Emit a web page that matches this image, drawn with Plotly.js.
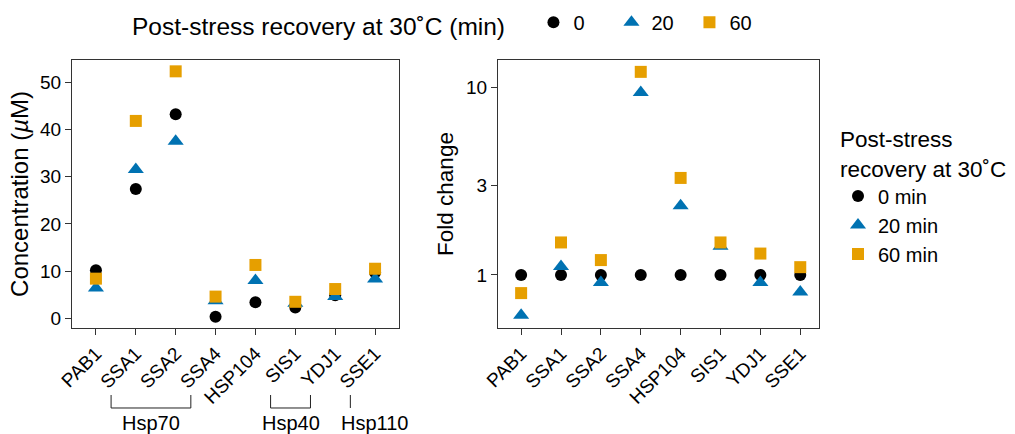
<!DOCTYPE html>
<html><head><meta charset="utf-8">
<script src="https://cdn.plot.ly/plotly-3.0.1.min.js"></script>
<style>html,body{margin:0;padding:0;background:#fff}#chart{width:1015px;height:434px}</style>
</head><body><div id="chart"></div>
<script>
// ---- data ----
const genes = ['PAB1','SSA1','SSA2','SSA4','HSP104','SIS1','YDJ1','SSE1'];
const recoveryMinutes = ['0','20','60'];
const conc0  = [10.2, 27.4, 43.2, 0.35, 3.4, 2.3, 4.9, 9.7];
const conc20 = [6.4, 31.5, 37.5, 3.7, 8.0, 3.2, 4.6, 8.3];
const conc60 = [8.4, 41.8, 52.3, 4.6, 11.3, 3.5, 6.2, 10.5];
const fold0  = [1, 1, 1, 1, 1, 1, 1, 1];
const fold20 = [0.61, 1.11, 0.91, 9.4, 2.34, 1.42, 0.91, 0.81];
const fold60 = [0.80, 1.49, 1.20, 12.1, 3.29, 1.49, 1.30, 1.10];
const concTicks = [0, 10, 20, 30, 40, 50];
const foldTicks = [1, 3, 10];
const groupNames = ['Hsp70', 'Hsp40', 'Hsp110'];
const groupFirst = ['SSA1', 'SIS1', 'SSE1'];
const groupLast  = ['SSA4', 'YDJ1', 'SSE1'];

// ---- styles ----
const FONT = 'Liberation Sans, Arial, Helvetica, sans-serif';
const colors = ['#000000', '#0072B2', '#E69F00'];
const symbols = ['circle', 'triangle-up', 'square'];
const sizes = [12, 14, 12];
const concSeries = [conc0, conc20, conc60];
const foldSeries = [fold0, fold20, fold60];

const traces = [];
concSeries.forEach((ys, i) => traces.push({
  type: 'scatter', mode: 'markers', x: genes, y: ys, xaxis: 'x', yaxis: 'y',
  name: recoveryMinutes[i], legend: 'legend',
  marker: {color: colors[i], symbol: symbols[i], size: sizes[i], line: {width: 0}}
}));
foldSeries.forEach((ys, i) => traces.push({
  type: 'scatter', mode: 'markers', x: genes, y: ys, xaxis: 'x2', yaxis: 'y2',
  name: recoveryMinutes[i] + ' min', legend: 'legend2',
  marker: {color: colors[i], symbol: symbols[i], size: sizes[i], line: {width: 0}}
}));

const axisBase = {
  showline: true, mirror: true, linecolor: '#333', linewidth: 1,
  ticks: 'outside', ticklen: 6, tickcolor: '#333', tickwidth: 1,
  showgrid: false, zeroline: false, automargin: false, fixedrange: true,
  tickfont: {family: FONT, size: 19, color: '#000'}
};
const font = (s) => ({family: FONT, size: s, color: '#000'});

// brackets under the left panel
const shapes = [];
const annotations = [];
const OFF = -0.62;
const yTop = -0.25, yBar = -0.2985;
groupNames.forEach((g, k) => {
  const a = genes.indexOf(groupFirst[k]) + OFF;
  const b = genes.indexOf(groupLast[k]) + OFF;
  const line = {type: 'line', xref: 'x', yref: 'paper', line: {color: '#222', width: 1}};
  const lbl = {xref: 'x', yref: 'paper', y: -0.355, yanchor: 'middle', text: g,
    showarrow: false, font: font(20)};
  if (a === b) {
    shapes.push(Object.assign({}, line, {x0: a, x1: a, y0: yTop, y1: yBar}));
    annotations.push(Object.assign(lbl, {x: a - 0.28, xanchor: 'left'}));
  } else {
    shapes.push(Object.assign({}, line, {x0: a, x1: a, y0: yTop, y1: yBar}));
    shapes.push(Object.assign({}, line, {x0: b, x1: b, y0: yTop, y1: yBar}));
    shapes.push(Object.assign({}, line, {x0: a, x1: b, y0: yBar, y1: yBar}));
    annotations.push(Object.assign(lbl, {x: (a + b) / 2, xanchor: 'center'}));
  }
});

const layout = {
  width: 1015, height: 434,
  margin: {l: 0, r: 0, t: 60, b: 106, pad: 0},
  paper_bgcolor: '#fff', plot_bgcolor: '#fff',
  font: {family: FONT, color: '#000'},
  showlegend: true,
  xaxis: Object.assign({}, axisBase, {
    type: 'category', domain: [72/1015, 399/1015], anchor: 'y',
    range: [-0.6, 7.6], tickangle: -45
  }),
  yaxis: Object.assign({}, axisBase, {
    domain: [0, 1], anchor: 'x', range: [-2.05, 54.7], tickvals: concTicks,
    title: {text: 'Concentration (<i>µ</i>M)', font: font(24), standoff: 4}
  }),
  xaxis2: Object.assign({}, axisBase, {
    type: 'category', domain: [498/1015, 819/1015], anchor: 'y2',
    range: [-0.58, 7.47], tickangle: -45
  }),
  yaxis2: Object.assign({}, axisBase, {
    type: 'log', domain: [0, 1], anchor: 'x2', range: [-0.283, 1.146],
    tickvals: foldTicks, ticktext: foldTicks.map(String),
    title: {text: 'Fold change', font: font(22.5), standoff: 6}
  }),
  legend: {
    orientation: 'h', x: 130/1015, xanchor: 'left', y: 1.135, yanchor: 'middle',
    title: {text: 'Post-stress recovery at 30˚C (min)\u00a0\u00a0\u00a0', font: font(24.5), side: 'left'},
    font: font(20), bgcolor: 'rgba(0,0,0,0)',
    entrywidth: 33, entrywidthmode: 'pixels',
    itemclick: false, itemdoubleclick: false
  },
  legend2: {
    orientation: 'v', x: 838/1015, xanchor: 'left', y: (328-118)/268, yanchor: 'top',
    title: {text: 'Post-stress<br>recovery at 30˚C', font: font(22.5), side: 'top'},
    font: font(20), bgcolor: 'rgba(0,0,0,0)',
    itemclick: false, itemdoubleclick: false
  },
  shapes: shapes,
  annotations: annotations
};

Plotly.newPlot('chart', traces, layout, {displayModeBar: false, staticPlot: true});
</script>
</body></html>
